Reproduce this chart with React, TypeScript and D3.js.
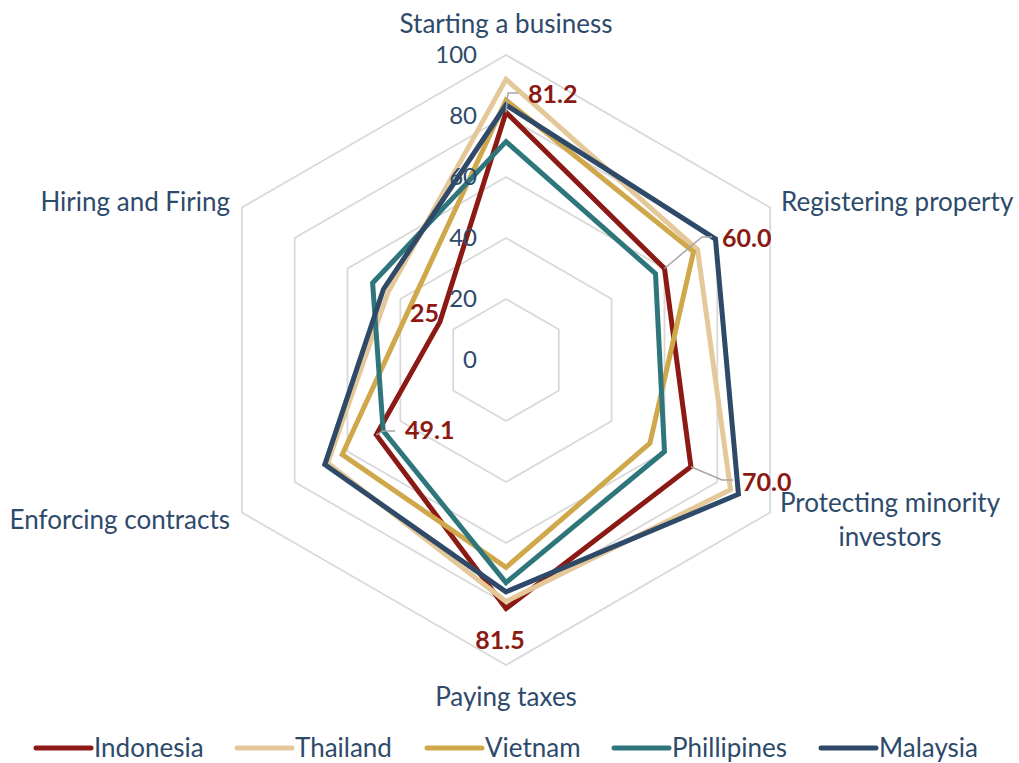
import React, { useEffect, useRef } from 'react';
import * as d3 from 'd3';

// Axis categories (clockwise from top)
const categories = [
  'Starting a business',
  'Registering property',
  'Protecting minority investors',
  'Paying taxes',
  'Enforcing contracts',
  'Hiring and Firing',
];

const ticks = [0, 20, 40, 60, 80, 100];

const countries = ['Indonesia', 'Thailand', 'Vietnam', 'Phillipines', 'Malaysia'];

const indonesia = [81.2, 60.0, 70.0, 81.5, 49.1, 25];
const thailand = [92, 72.5, 85, 79.2, 67.5, 44.6];
const vietnam = [85.2, 71, 54.5, 68, 62, 36];
const phillipines = [71.6, 56.6, 60, 73, 46.5, 50.5];
const malaysia = [83.6, 79.3, 88, 76, 68.6, 46.4];

const seriesValues = [indonesia, thailand, vietnam, phillipines, malaysia];
const colors = ['#8B1A14', '#E4C899', '#D0A84C', '#2F767C', '#2E4A68'];

const W = 1019;
const H = 763;

const App = () => {
  const ref = useRef<SVGSVGElement | null>(null);

  useEffect(() => {
    const svg = d3.select(ref.current);
    svg.selectAll('*').remove();

    const cx = 506;
    const cy = 360;
    const r = d3.scaleLinear().domain([0, 100]).range([0, 305]);
    const angle = d3
      .scalePoint<number>()
      .domain(d3.range(categories.length))
      .range([0, 2 * Math.PI - (2 * Math.PI) / categories.length]);

    const g = svg.append('g').attr('transform', `translate(${cx},${cy})`);
    const pt = (i: number, v: number) => {
      const a = angle(i) as number;
      return [r(v) * Math.sin(a), -r(v) * Math.cos(a)];
    };

    const radial = d3
      .lineRadial<number>()
      .angle((_, i) => angle(i) as number)
      .radius((d) => r(d))
      .curve(d3.curveLinearClosed);

    // grid hexagons
    ticks.slice(1).forEach((t) => {
      g.append('path')
        .attr('d', radial(categories.map(() => t)))
        .attr('fill', 'none')
        .attr('stroke', '#D9D9D9')
        .attr('stroke-width', 1.8);
    });

    // series
    seriesValues.forEach((vals, k) => {
      g.append('path')
        .attr('d', radial(vals))
        .attr('fill', 'none')
        .attr('stroke', colors[k])
        .attr('stroke-width', 5)
        .attr('stroke-linejoin', 'miter');
    });

    // tick labels
    g.selectAll('text.tick')
      .data(ticks)
      .join('text')
      .attr('class', 'tick')
      .attr('x', -29)
      .attr('y', (d) => -r(d))
      .attr('dy', '0.35em')
      .attr('text-anchor', 'end')
      .attr('font-family', 'Lato, sans-serif')
      .attr('font-size', 24)
      .attr('fill', '#2E4A6B')
      .text((d) => d);

    // category labels
    const labelPos = [
      { x: 0, y: -336, anchor: 'middle', lines: [categories[0]] },
      { x: 275, y: -158, anchor: 'start', lines: [categories[1]] },
      { x: 384, y: 143, anchor: 'middle', lines: ['Protecting minority', 'investors'] },
      { x: 0, y: 337, anchor: 'middle', lines: [categories[3]] },
      { x: -276, y: 160, anchor: 'end', lines: [categories[4]] },
      { x: -276, y: -158, anchor: 'end', lines: [categories[5]] },
    ];
    labelPos.forEach((p) => {
      const t = g
        .append('text')
        .attr('x', p.x)
        .attr('y', p.y)
        .attr('text-anchor', p.anchor)
        .attr('font-family', 'Lato, sans-serif')
        .attr('font-size', 26)
        .attr('fill', '#2E4A6B');
      p.lines.forEach((l, i) => {
        t.append('tspan').attr('x', p.x).attr('dy', i === 0 ? '0.35em' : 34).text(l);
      });
    });

    // data labels for Indonesia with leader lines
    const dl = [
      { i: 0, lx: 22, ly: -266, leader: [[2, -267], [12, -267]], anchor: 'start' },
      { i: 1, lx: 216, ly: -122, leader: [[196, -123], [206, -123]], anchor: 'start' },
      { i: 2, lx: 236, ly: 122, leader: [[216, 120], [227, 120]], anchor: 'start' },
      { i: 3, lx: -6, ly: 280, leader: null, anchor: 'middle' },
      { i: 4, lx: -101, ly: 70, leader: [[-123, 71], [-111, 71]], anchor: 'start' },
      { i: 5, lx: -96, ly: -47, leader: null, anchor: 'start' },
    ];
    dl.forEach((d) => {
      const v = indonesia[d.i];
      if (d.leader) {
        const [px, py] = pt(d.i, v);
        g.append('path')
          .attr('d', d3.line()([[px, py], ...(d.leader as [number, number][])]))
          .attr('fill', 'none')
          .attr('stroke', '#A6A6A6')
          .attr('stroke-width', 1.5);
      }
      g.append('text')
        .attr('x', d.lx)
        .attr('y', d.ly)
        .attr('dy', '0.35em')
        .attr('text-anchor', d.anchor)
        .attr('font-family', 'Lato, sans-serif')
        .attr('font-weight', 'bold')
        .attr('font-size', 25)
        .attr('fill', '#8B1A14')
        .text(d.i === 5 ? String(v) : v.toFixed(1));
    });

    // legend
    const legendX = [36, 237, 427, 614, 821];
    const lg = svg.append('g').attr('transform', 'translate(0,748)');
    countries.forEach((c, k) => {
      lg.append('line')
        .attr('x1', legendX[k])
        .attr('x2', legendX[k] + 55)
        .attr('y1', 0)
        .attr('y2', 0)
        .attr('stroke', colors[k])
        .attr('stroke-width', 5)
        .attr('stroke-linecap', 'round');
      lg.append('text')
        .attr('x', legendX[k] + 58)
        .attr('y', 0)
        .attr('dy', '0.35em')
        .attr('font-family', 'Lato, sans-serif')
        .attr('font-size', 26)
        .attr('fill', '#2E4A6B')
        .text(c);
    });
  }, []);

  return (
    <svg
      ref={ref}
      width={W}
      height={H}
      style={{ position: 'absolute', left: 0, top: 0, background: '#fff' }}
    />
  );
};

export default App;
